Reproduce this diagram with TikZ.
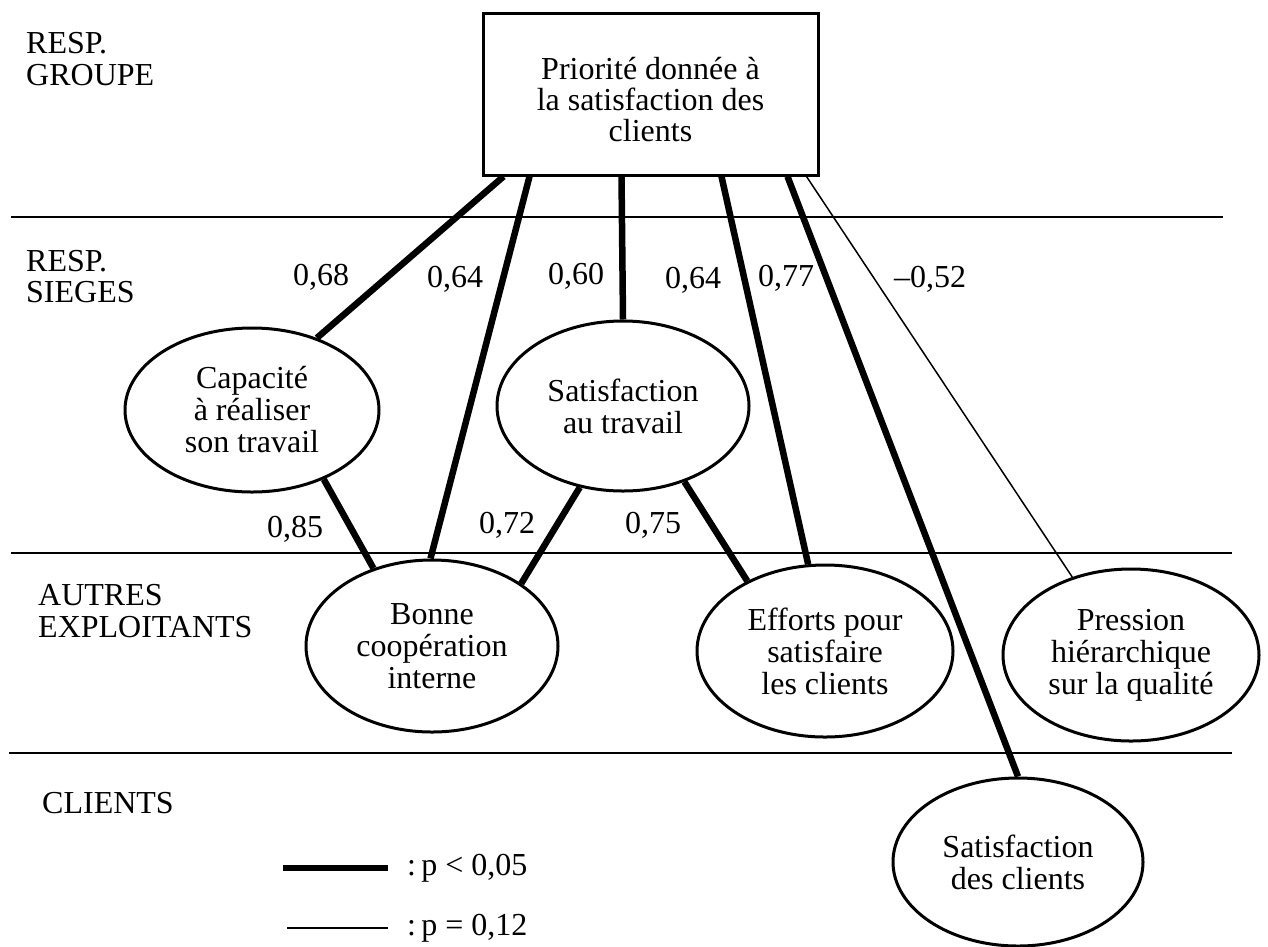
\documentclass[tikz,border=0pt]{standalone}
\usepackage{fontspec}
\setmainfont{Liberation Serif}
\usetikzlibrary{shapes.geometric}
\begin{document}
\begin{tikzpicture}[x=1pt,y=-1pt,
  txt/.style={font=\fontsize{32}{32}\selectfont, inner sep=0pt},
  lab/.style={txt, anchor=base},
  rowlab/.style={txt, anchor=base west},
  oval/.style={ellipse, draw, line width=3pt, inner sep=0pt, align=center,
    font=\fontsize{32}{32}\selectfont},
  sepline/.style={line width=2.5pt},
  strong/.style={line width=6.5pt},
  weak/.style={line width=1.5pt}]
\useasboundingbox (0,0) rectangle (1268,946);

% separators
\coordinate (s1a) at (11,217);  \coordinate (s1b) at (1223,217);
\coordinate (s2a) at (11,553);  \coordinate (s2b) at (1232,553);
\coordinate (s3a) at (9,753);   \coordinate (s3b) at (1232,753);
\draw[sepline] (s1a) -- (s1b);
\draw[sepline] (s2a) -- (s2b);
\draw[sepline] (s3a) -- (s3b);

% row labels
\node[rowlab] (rg1) at (26,53) {RESP.};
\node[rowlab] (rg2) at (26,85) {GROUPE};
\node[rowlab] (rs1) at (26,271) {RESP.};
\node[rowlab] (rs2) at (26,302) {SIEGES};
\node[rowlab] (ra1) at (38,605) {AUTRES};
\node[rowlab] (ra2) at (38,637) {EXPLOITANTS};
\node[rowlab] (rc1) at (42,813) {CLIENTS};

% box
\node[draw, line width=3pt, minimum width=335pt, minimum height=162pt,
  inner sep=0pt, align=center, font=\fontsize{32}{31}\selectfont]
  (box) at (650.5,94) {\rule{0pt}{34pt}Priorité donnée à\\la satisfaction des\\clients};

% ellipses
\node[oval, minimum width=254pt, minimum height=164pt] (cap) at (252,410)
  {Capacité\\à réaliser\\son travail};
\node[oval, minimum width=252pt, minimum height=170pt] (sat) at (623,406)
  {Satisfaction\\au travail};
\node[oval, minimum width=252pt, minimum height=172pt] (bon) at (432,646)
  {Bonne\\coopération\\interne};
\node[oval, minimum width=256pt, minimum height=172pt] (eff) at (825,651)
  {Efforts pour\\satisfaire\\les clients};
\node[oval, minimum width=256pt, minimum height=172pt] (pre) at (1131,655)
  {Pression\\hiérarchique\\sur la qualité};
\node[oval, minimum width=250pt, minimum height=168pt] (sc) at (1018,862)
  {Satisfaction\\des clients};

% connectors
\draw[strong] ([xshift=22pt]box.south west) -- (cap.48.3);
\draw[strong] ([xshift=48pt]box.south west) -- (bon.91);
\draw[strong] ([xshift=140pt]box.south west) -- (sat.90);
\draw[strong] ([xshift=240pt]box.south west) -- (eff.101.3);
\draw[strong] ([xshift=306pt]box.south west) -- (sc.90);
\draw[weak] ([xshift=325pt]box.south west) -- (pre.127.3);
\draw[strong] (cap.-44.6) -- (bon.127.8);
\draw[strong] (sat.242.9) -- (bon.35.6);
\draw[strong] (sat.-51.9) -- (eff.138);

% coefficient labels
\node[lab] (l68) at (321,285) {0,68};
\node[lab] (l64a) at (455,287) {0,64};
\node[lab] (l60) at (576,284) {0,60};
\node[lab] (l64b) at (693,288) {0,64};
\node[lab] (l77) at (786,286) {0,77};
\node[lab] (l52) at (930,287) {–0,52};
\node[lab] (l85) at (295,537) {0,85};
\node[lab] (l72) at (507,533) {0,72};
\node[lab] (l75) at (653,533) {0,75};

% legend
\coordinate (g1a) at (283,868); \coordinate (g1b) at (388,868);
\coordinate (g2a) at (287,928); \coordinate (g2b) at (388,928);
\draw[strong] (g1a) -- (g1b);
\draw[weak] (g2a) -- (g2b);
\node[rowlab] (t1) at (407,875) {:\,p < 0,05};
\node[rowlab] (t2) at (407,935) {:\,p = 0,12};
\end{tikzpicture}
\end{document}
